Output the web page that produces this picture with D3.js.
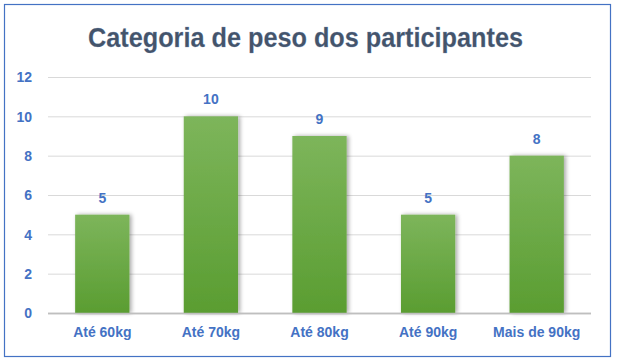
<!DOCTYPE html>
<html><head><meta charset="utf-8">
<script src="https://cdn.jsdelivr.net/npm/d3@7"></script>
<style>body{margin:0;background:#fff}svg{display:block}</style>
</head><body>
<svg id="c" width="629" height="359"></svg>
<script>
const categories = ["Até 60kg","Até 70kg","Até 80kg","Até 90kg","Mais de 90kg"];
const values = [5,10,9,5,8];
const yTicks = [0,2,4,6,8,10,12];
const title = "Categoria de peso dos participantes";

const svg = d3.select("#c");
const W = 629, H = 359;
const m = {left:48, right:38, top:77, bottom:46};
const x = d3.scaleBand().domain(categories).range([m.left, W - m.right]).paddingInner(0.5).paddingOuter(0.25);
const y = d3.scaleLinear().domain([0,12]).range([H - m.bottom, m.top]);
const font = "'Liberation Sans', Arial, sans-serif";
const blue = "#4472C4";

const defs = svg.append("defs");
const g = defs.append("linearGradient").attr("id","bg").attr("x1",0).attr("y1",0).attr("x2",0).attr("y2",1);
g.append("stop").attr("offset","0%").attr("stop-color","#7db55b");
g.append("stop").attr("offset","100%").attr("stop-color","#5a9d31");
const f = defs.append("filter").attr("id","sh").attr("x","-30%").attr("y","-10%").attr("width","160%").attr("height","120%");
f.append("feGaussianBlur").attr("in","SourceAlpha").attr("stdDeviation",2);
f.append("feOffset").attr("dx",1.5).attr("dy",0).attr("result","o");
f.append("feComponentTransfer").append("feFuncA").attr("type","linear").attr("slope",0.35);
const mg = f.append("feMerge"); mg.append("feMergeNode"); mg.append("feMergeNode").attr("in","SourceGraphic");

// border
svg.append("rect").attr("x",4.5).attr("y",4.5).attr("width",606).attr("height",352)
  .attr("fill","#fff").attr("stroke","#4472C4").attr("stroke-width",1.2);

// title
const t = svg.append("text").attr("x",305.5).attr("y",47).attr("text-anchor","middle")
  .attr("font-family",font).attr("font-weight","bold").attr("font-size",27)
  .attr("fill","#44546A").attr("stroke","#6f8ab8").attr("stroke-width",0.4).attr("stroke-opacity",0.6)
  .text(title);
t.attr("textLength",435).attr("lengthAdjust","spacingAndGlyphs");

// grid
const yAxis = d3.axisLeft(y).tickValues(yTicks).tickSize(-(W - m.right - m.left)).tickPadding(16);
const ga = svg.append("g").attr("transform",`translate(${m.left},0)`).call(yAxis);
ga.select(".domain").remove();
ga.selectAll(".tick line").attr("stroke","#d9d9d9").attr("stroke-width",1)
  .attr("stroke", d => d === 0 ? "#bfbfbf" : "#d9d9d9").attr("stroke-width", d=> d===0?1.5:1);
ga.selectAll(".tick text").attr("font-family",font).attr("font-weight","bold").attr("font-size",14)
  .attr("fill",blue).attr("dy","0.34em");

// bars
svg.append("g").selectAll("rect").data(values).join("rect")
  .attr("x",(d,i)=>x(categories[i])).attr("width",x.bandwidth())
  .attr("y",d=>y(d)).attr("height",d=>y(0)-y(d))
  .attr("fill","url(#bg)").attr("filter","url(#sh)");
// redraw baseline on top
svg.append("line").attr("x1",m.left).attr("x2",W-m.right).attr("y1",y(0)+0.5).attr("y2",y(0)+0.5)
  .attr("stroke","#bfbfbf").attr("stroke-width",1.5);

// value labels
svg.append("g").selectAll("text").data(values).join("text")
  .attr("x",(d,i)=>x(categories[i])+x.bandwidth()/2).attr("y",d=>y(d)-12)
  .attr("text-anchor","middle").attr("font-family",font).attr("font-weight","bold")
  .attr("font-size",14).attr("fill",blue).text(d=>d);

// x axis labels
const xAxis = d3.axisBottom(x).tickSize(0).tickPadding(14);
const gx = svg.append("g").attr("transform",`translate(0,${y(0)})`).call(xAxis);
gx.select(".domain").remove();
gx.selectAll(".tick text").attr("font-family",font).attr("font-weight","bold").attr("font-size",14)
  .attr("fill",blue);
</script>
</body></html>
